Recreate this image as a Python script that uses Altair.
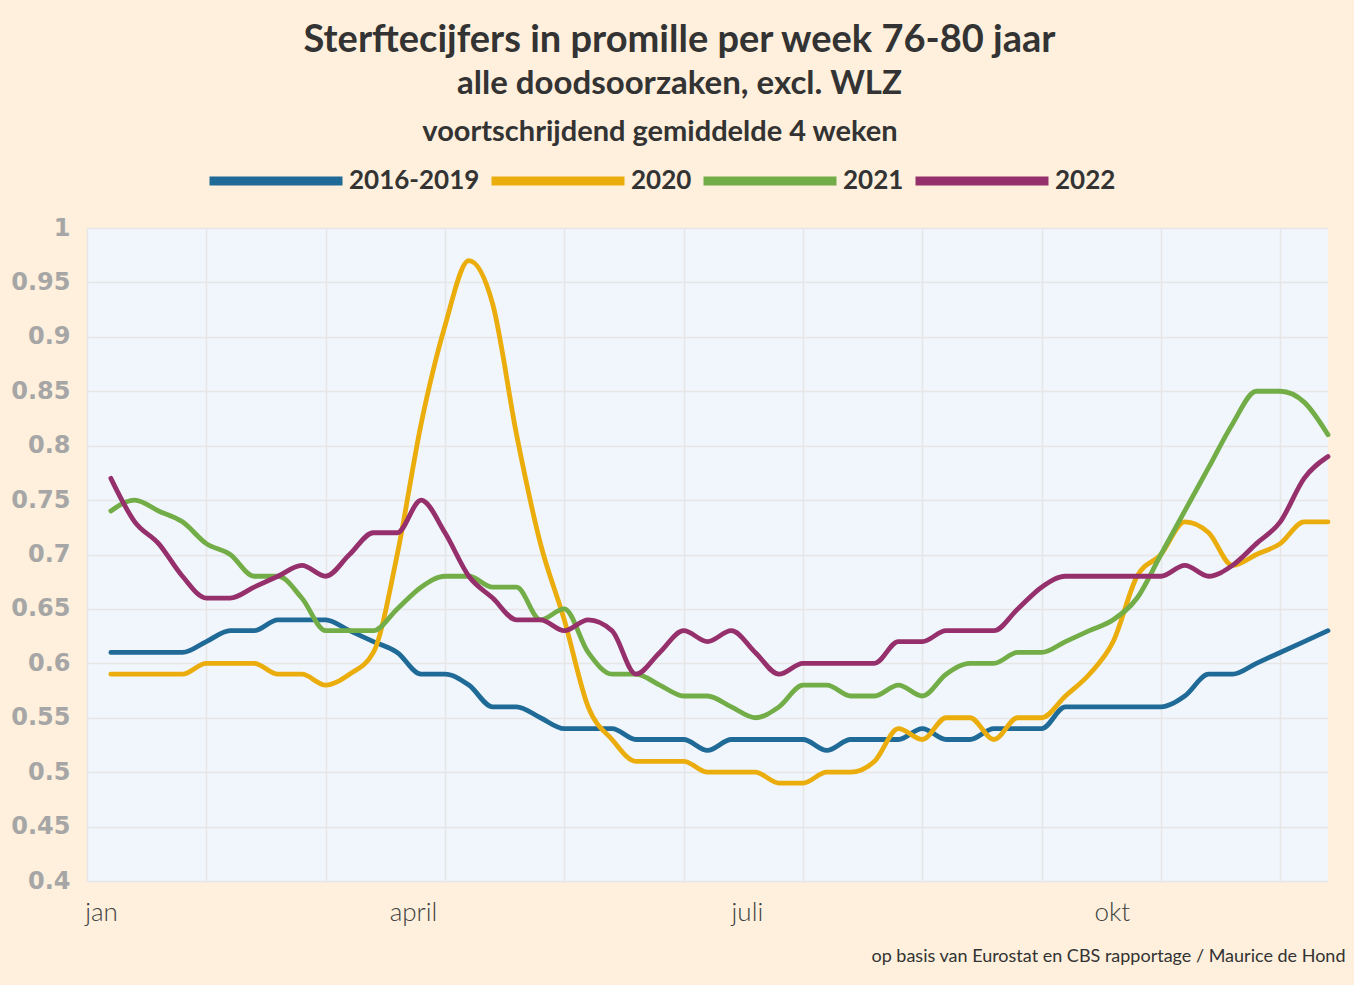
import altair as alt
import pandas as pd

weeks = list(range(1, 53))

s_2016_2019 = [0.61, 0.61, 0.61, 0.61, 0.62, 0.63, 0.63, 0.64, 0.64, 0.64,
               0.63, 0.62, 0.61, 0.59, 0.59, 0.58, 0.56, 0.56, 0.55, 0.54,
               0.54, 0.54, 0.53, 0.53, 0.53, 0.52, 0.53, 0.53, 0.53, 0.53,
               0.52, 0.53, 0.53, 0.53, 0.54, 0.53, 0.53, 0.54, 0.54, 0.54,
               0.56, 0.56, 0.56, 0.56, 0.56, 0.57, 0.59, 0.59, 0.60, 0.61,
               0.62, 0.63]
s_2020 = [0.59, 0.59, 0.59, 0.59, 0.60, 0.60, 0.60, 0.59, 0.59, 0.58,
          0.59, 0.61, 0.70, 0.82, 0.91, 0.97, 0.93, 0.81, 0.71, 0.64,
          0.56, 0.53, 0.51, 0.51, 0.51, 0.50, 0.50, 0.50, 0.49, 0.49,
          0.50, 0.50, 0.51, 0.54, 0.53, 0.55, 0.55, 0.53, 0.55, 0.55,
          0.57, 0.59, 0.62, 0.68, 0.70, 0.73, 0.72, 0.69, 0.70, 0.71,
          0.73, 0.73]
s_2021 = [0.74, 0.75, 0.74, 0.73, 0.71, 0.70, 0.68, 0.68, 0.66, 0.63,
          0.63, 0.63, 0.65, 0.67, 0.68, 0.68, 0.67, 0.67, 0.64, 0.65,
          0.61, 0.59, 0.59, 0.58, 0.57, 0.57, 0.56, 0.55, 0.56, 0.58,
          0.58, 0.57, 0.57, 0.58, 0.57, 0.59, 0.60, 0.60, 0.61, 0.61,
          0.62, 0.63, 0.64, 0.66, 0.70, 0.74, 0.78, 0.82, 0.85, 0.85,
          0.84, 0.81]
s_2022 = [0.77, 0.73, 0.71, 0.68, 0.66, 0.66, 0.67, 0.68, 0.69, 0.68,
          0.70, 0.72, 0.72, 0.75, 0.72, 0.68, 0.66, 0.64, 0.64, 0.63,
          0.64, 0.63, 0.59, 0.61, 0.63, 0.62, 0.63, 0.61, 0.59, 0.60,
          0.60, 0.60, 0.60, 0.62, 0.62, 0.63, 0.63, 0.63, 0.65, 0.67,
          0.68, 0.68, 0.68, 0.68, 0.68, 0.69, 0.68, 0.69, 0.71, 0.73,
          0.77, 0.79]

series_names = ["2016-2019", "2020", "2021", "2022"]
series_values = [s_2016_2019, s_2020, s_2021, s_2022]
series_colors = ["#1F6A96", "#EBAD0C", "#72AD47", "#96306C"]

month_labels = ["jan", "april", "juli", "okt"]
month_pos = [0.59, 13.66, 27.65, 42.94]
grid_weeks = [0, 5, 10, 15, 20, 25, 30, 35, 40, 45, 50]
y_ticks = [0.4, 0.45, 0.5, 0.55, 0.6, 0.65, 0.7, 0.75, 0.8, 0.85, 0.9, 0.95, 1.0]

rows = []
for name, vals in zip(series_names, series_values):
    for w, v in zip(weeks, vals):
        rows.append({"week": w, "value": v, "serie": name})
df = pd.DataFrame(rows)

label_expr = "''"
for pos, lab in reversed(list(zip(month_pos, month_labels))):
    label_expr = f"datum.value == {pos} ? '{lab}' : ({label_expr})"

TXT = "#333333"
FONT = "Lato"

chart = alt.Chart(df).mark_line(
    strokeWidth=4.8, interpolate="monotone", strokeCap="round", strokeJoin="round"
).encode(
    x=alt.X("week:Q",
            scale=alt.Scale(domain=[0, 52], nice=False, zero=False),
            axis=alt.Axis(values=grid_weeks + month_pos, labelExpr=label_expr,
                          title="op basis van Eurostat en CBS rapportage / Maurice de Hond",
                          titleFont=FONT, titleFontSize=18, titleFontWeight="normal",
                          titleColor=TXT, titleAlign="right", titleAnchor="end",
                          titleX=1258, titleY=75, titleBaseline="middle",
                          labelFont=FONT, labelFontSize=26, labelFontWeight=300,
                          labelColor="#404040", labelPadding=18,
                          labelOverlap=False, labelFlush=False,
                          domain=False, ticks=False,
                          gridColor="#E6E6E6", gridWidth=1.5,
                          gridOpacity={"condition": {"test": "datum.value % 5 == 0", "value": 1}, "value": 0})),
    y=alt.Y("value:Q",
            scale=alt.Scale(domain=[0.4, 1.0], nice=False, zero=False),
            axis=alt.Axis(values=y_ticks, format="~g", title=None,
                          labelFont="DejaVu Sans", labelFontSize=24, labelFontWeight="bold",
                          labelColor="#A6A6A6", labelPadding=17,
                          domain=False, ticks=False,
                          gridColor="#E6E6E6", gridWidth=1.5)),
    color=alt.Color("serie:N",
                    scale=alt.Scale(domain=series_names, range=series_colors),
                    legend=alt.Legend(orient="none", legendX=118, legendY=-110,
                                      direction="horizontal", gridAlign="none",
                                      title="voortschrijdend gemiddelde 4 weken",
                                      titleFont=FONT, titleFontSize=29, titleFontWeight="bold",
                                      titleColor=TXT, titleAnchor="middle", titlePadding=-37,
                                      titleLimit=2000,
                                      labelFont=FONT, labelFontSize=26, labelFontWeight="bold",
                                      labelColor=TXT, labelOffset=2, labelLimit=500,
                                      symbolType="stroke", symbolSize=17689,
                                      symbolStrokeWidth=9, columnPadding=-7)),
).properties(
    width=1241,
    height=653,
    title=alt.TitleParams(
        text="Sterftecijfers in promille per week 76-80 jaar",
        subtitle="alle doodsoorzaken, excl. WLZ",
        font=FONT, fontSize=38, fontWeight="bold", color=TXT,
        subtitleFont=FONT, subtitleFontSize=33, subtitleFontWeight="bold",
        subtitleColor=TXT, subtitlePadding=8, anchor="middle", offset=17, dx=-28,
    ),
    autosize=alt.AutoSizeParams(type="none"),
    padding={"left": 87, "top": 228, "right": 26, "bottom": 104},
).configure(
    background="#FEF0DC",
).configure_view(
    fill="#F0F6FC", stroke=None,
)

chart.save("out.html", embed_options={"renderer": "svg", "actions": False})
